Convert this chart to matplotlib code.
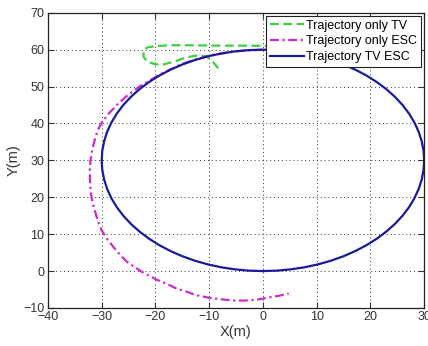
import matplotlib
matplotlib.use("Agg")
import matplotlib.pyplot as plt

plt.rcParams['font.family'] = ['Liberation Sans', 'DejaVu Sans']

# Trajectory only TV (green dashed)
x_tv = [2, -3, -8, -13, -17, -20, -21.5, -22.2, -22.2, -21.5, -20, -18.5, -16.5, -14, -12, -10.5, -9.5, -8.3]
y_tv = [61, 61.1, 61.1, 61.2, 61.2, 61, 60.6, 60, 58, 56.8, 56, 56, 56.8, 58, 58.5, 58.2, 57, 55]

# Trajectory only ESC (magenta dash-dot)
x_esc = [0, -5, -10, -15, -19, -23.0, -25.3, -27.2, -28.8, -30.1, -30.8, -31.4, -31.8, -32.1, -32.2,
         -32.2, -32.1, -31.9, -31.6, -31.2, -30.7, -30.0, -29.0, -27.8, -26.6, -25.3, -24.0,
         -22.2, -19.7, -18.0, -16.0, -14.0, -12.5, -9.8, -7.5, -5.5, -3.5, -1.2, 1.3, 3.0, 4.8]
y_esc = [60, 59.6, 58.4, 56.2, 53.4, 50, 47.5, 45, 42.5, 40, 38, 35, 32.5, 30, 27.5,
         25, 22.5, 20, 18, 16, 13.5, 11, 8.7, 6.5, 4.4, 2.5, 1.2,
         -0.5, -2.4, -3.4, -4.8, -5.7, -6.5, -7.3, -7.7, -8.0, -8.0, -7.8, -7.1, -6.7, -6.1]

# Trajectory TV ESC (blue solid, closed loop)
x_both = [0, 2.61, 5.21, 7.76, 10.26, 12.68, 15.0, 17.21, 19.28, 21.21, 22.98, 24.57, 25.98,
          27.19, 28.19, 28.98, 29.54, 29.89, 30, 29.89, 29.54, 28.98, 28.19, 27.19, 25.98,
          24.57, 22.98, 21.21, 19.28, 17.21, 15.0, 12.68, 10.26, 7.76, 5.21, 2.61, 0,
          -2.61, -5.21, -7.76, -10.26, -12.68, -15.0, -17.21, -19.28, -21.21, -22.98, -24.57,
          -25.98, -27.19, -28.19, -28.98, -29.54, -29.89, -30, -29.89, -29.54, -28.98, -28.19,
          -27.19, -25.98, -24.57, -22.98, -21.21, -19.28, -17.21, -15.0, -12.68, -10.26, -7.76,
          -5.21, -2.61, 0]
y_both = [0, 0.11, 0.46, 1.02, 1.81, 2.81, 4.02, 5.43, 7.02, 8.79, 10.72, 12.79, 15.0,
          17.32, 19.74, 22.24, 24.79, 27.39, 30, 32.61, 35.21, 37.76, 40.26, 42.68, 45.0,
          47.21, 49.28, 51.21, 52.98, 54.57, 55.98, 57.19, 58.19, 58.98, 59.54, 59.89, 60,
          59.89, 59.54, 58.98, 58.19, 57.19, 55.98, 54.57, 52.98, 51.21, 49.28, 47.21,
          45.0, 42.68, 40.26, 37.76, 35.21, 32.61, 30, 27.39, 24.79, 22.24, 19.74,
          17.32, 15.0, 12.79, 10.72, 8.79, 7.02, 5.43, 4.02, 2.81, 1.81, 1.02,
          0.46, 0.11, 0]

x_ticks = [-40, -30, -20, -10, 0, 10, 20, 30]
y_ticks = [-10, 0, 10, 20, 30, 40, 50, 60, 70]

fig = plt.figure(figsize=(4.28, 3.46), dpi=100)
ax = fig.add_axes([0.112, 0.110, 0.879, 0.853])

ax.plot(x_tv, y_tv, '--', color='#3fcf3f', lw=1.6, dashes=(4, 2), label='Trajectory only TV')
ax.plot(x_esc, y_esc, '-.', color='#cc2ccc', lw=1.6, dashes=(4, 1.6, 1, 1.6),
        label='Trajectory only ESC')
ax.plot(x_both, y_both, '-', color='#1a1a9a', lw=1.6, label='Trajectory TV ESC')

ax.set_xlim(-40, 30)
ax.set_ylim(-10, 70)
ax.set_xticks(x_ticks)
ax.set_yticks(y_ticks)
ax.tick_params(direction='in', top=True, right=True, labelsize=9, length=4,
               width=0.8, colors='#333333', pad=2.5)
ax.grid(True, linestyle=(0, (1, 3)), color='#333333', linewidth=0.7)
for s in ax.spines.values():
    s.set_linewidth(0.9)
    s.set_color('#222222')

ax.set_xlabel('X(m)', fontsize=10.5, color='#333333', labelpad=1)
ax.set_ylabel('Y(m)', fontsize=10.5, color='#333333', labelpad=2)

leg = ax.legend(loc='upper right', fontsize=9, handlelength=2.7, handletextpad=0.2,
                borderpad=0.3, labelspacing=0.3, fancybox=False, framealpha=1,
                borderaxespad=0.25)
leg.get_frame().set_edgecolor('#222222')
leg.get_frame().set_linewidth(0.8)

fig.savefig('out.png', dpi=100)
